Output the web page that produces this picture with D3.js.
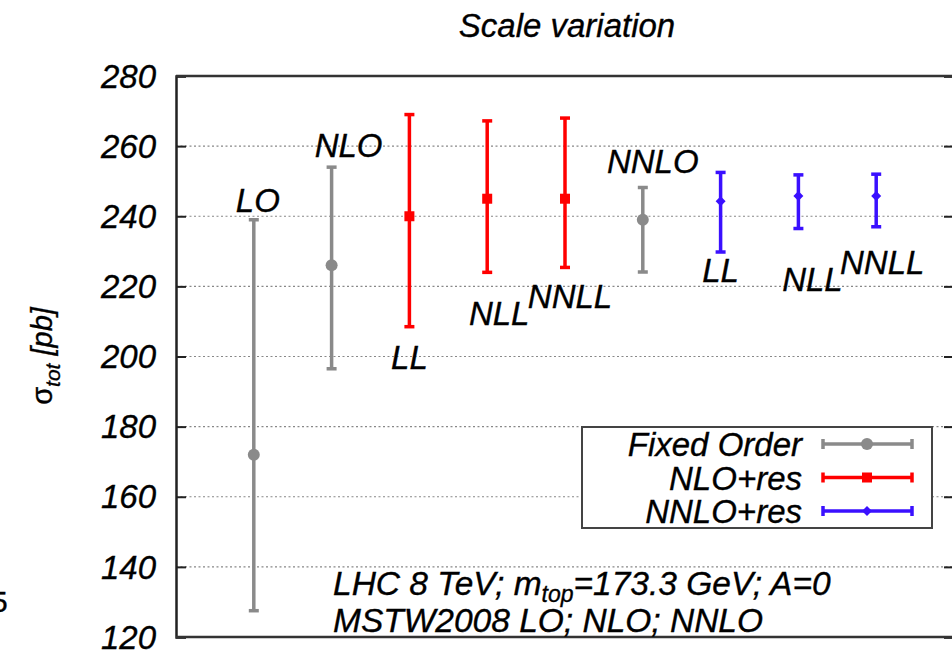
<!DOCTYPE html>
<html><head><meta charset="utf-8">
<script src="https://cdn.jsdelivr.net/npm/d3@7"></script>
<style>
body{margin:0;background:#fff;}
svg{display:block;font-family:"Liberation Sans",Arial,sans-serif;font-style:italic;}
svg text{stroke:#000;stroke-width:0.35px;}
</style></head>
<body><svg id="c" width="952" height="653"></svg>
<script>
// ---- data ----
const categories = ["LO","NLO","LL","NLL","NNLL","NNLO","LL","NLL","NNLL"];
const series = ["Fixed Order","Fixed Order","NLO+res","NLO+res","NLO+res","Fixed Order","NNLO+res","NNLO+res","NNLO+res"];
const centralValues = [172, 226, 240, 245, 245, 239, 244.3, 245.8, 245.8];
const upperValues   = [239, 254, 269, 267.2, 268, 248.2, 252.5, 251.8, 252];
const lowerValues   = [127.5, 196.5, 208.5, 224, 225.4, 224.1, 229.8, 236.5, 237];
const labelSide     = ["top","top","bottom","bottom","bottom","top","bottom","bottom","bottom"];
const yTicks = [120,140,160,180,200,220,240,260,280];
const legendSeries = ["Fixed Order","NLO+res","NNLO+res"];

const color = {"Fixed Order":"#8a8a8a","NLO+res":"#ff0000","NNLO+res":"#3a10ff"};

const svg = d3.select("#c");
const x = d3.scaleLinear().domain([0,10]).range([176,954]);
const y = d3.scaleLinear().domain([120,280]).range([637,76]);

// grid
const g = svg.append("g");
g.selectAll("line.grid").data(yTicks.filter(t=>t>120&&t<280)).join("line")
  .attr("x1",176).attr("x2",954).attr("y1",d=>y(d)).attr("y2",d=>y(d))
  .attr("stroke","#888").attr("stroke-width",1.2).attr("stroke-dasharray","2,2.5");

// left axis
const yAxis = d3.axisLeft(y).tickValues(yTicks).tickSize(-10).tickPadding(20).tickFormat(d3.format("d"));
const ax = svg.append("g").attr("transform","translate(176,0)").call(yAxis);
ax.select(".domain").attr("stroke","#222").attr("stroke-width",2.5);
ax.selectAll(".tick line").attr("stroke","#222").attr("stroke-width",2);
ax.selectAll(".tick text").attr("font-size",33).attr("font-style","italic")
  .attr("font-family","Liberation Sans, Arial, sans-serif").attr("fill","#000").attr("dy","0.34em");
// right ticks
const axR = svg.append("g").attr("transform","translate(954,0)").call(d3.axisRight(y).tickValues(yTicks).tickSize(-10).tickFormat(""));
axR.select(".domain").attr("stroke","#222").attr("stroke-width",2.5);
axR.selectAll(".tick line").attr("stroke","#222").attr("stroke-width",2);
// top and bottom frame
svg.append("line").attr("x1",176).attr("x2",954).attr("y1",y(280)).attr("y2",y(280)).attr("stroke","#333").attr("stroke-width",2.5);
svg.append("line").attr("x1",176).attr("x2",954).attr("y1",y(120)).attr("y2",y(120)).attr("stroke","#333").attr("stroke-width",2.5);

// title
svg.append("text").attr("x",567).attr("y",37).attr("text-anchor","middle").attr("font-size",33).text("Scale variation");

// y label
const yl = svg.append("text").attr("transform","translate(52,356) rotate(-90)").attr("text-anchor","middle").attr("font-size",29);
yl.append("tspan").attr("font-style","normal").text("σ");
yl.append("tspan").attr("font-size",21).attr("dy",8).text("tot");
yl.append("tspan").attr("dy",-8).text(" [pb]");

// stray glyph at left edge
svg.append("text").attr("x",-9).attr("y",612).attr("font-size",30).attr("font-style","normal").text("5");

// markers
function marker(sel, s, cx, cy){
  if(s==="Fixed Order") sel.append("circle").attr("cx",cx).attr("cy",cy).attr("r",6).attr("fill",color[s]);
  else if(s==="NLO+res") sel.append("rect").attr("x",cx-5).attr("y",cy-5).attr("width",10).attr("height",10).attr("fill",color[s]);
  else sel.append("path").attr("d",`M${cx},${cy-5}L${cx+5},${cy}L${cx},${cy+5}L${cx-5},${cy}Z`).attr("fill",color[s]);
}
function errbar(sel, s, cx, yTop, yBot){
  const c=color[s];
  sel.append("line").attr("x1",cx).attr("x2",cx).attr("y1",yTop).attr("y2",yBot).attr("stroke",c).attr("stroke-width",3.5);
  [yTop,yBot].forEach(v=>sel.append("line").attr("x1",cx-5).attr("x2",cx+5).attr("y1",v).attr("y2",v).attr("stroke",c).attr("stroke-width",3.5));
}

const pts = svg.append("g");
categories.forEach((cat,i)=>{
  const cx = x(i+1);
  errbar(pts, series[i], cx, y(upperValues[i]), y(lowerValues[i]));
  marker(pts, series[i], cx, y(centralValues[i]));
});

// category labels
const labelOffsets = [[4,-8],[17,-10],[0,42],[12,53],[5,41],[10,-14],[0,30],[14,62],[6,47]];
categories.forEach((cat,i)=>{
  const cx = x(i+1)+labelOffsets[i][0];
  const yy = labelSide[i]==="top" ? y(upperValues[i])+labelOffsets[i][1] : y(lowerValues[i])+labelOffsets[i][1];
  svg.append("text").attr("x",cx).attr("y",yy).attr("text-anchor","middle").attr("font-size",33).text(cat);
});

// legend
const lg = svg.append("g");
lg.append("rect").attr("x",582).attr("y",427).attr("width",350).attr("height",101).attr("fill","#fff").attr("stroke","#444").attr("stroke-width",2);
legendSeries.forEach((s,i)=>{
  const ly = 444 + i*33.5;
  lg.append("text").attr("x",802).attr("y",ly+12).attr("text-anchor","end").attr("font-size",33).text(s);
  const c=color[s];
  lg.append("line").attr("x1",823).attr("x2",912).attr("y1",ly).attr("y2",ly).attr("stroke",c).attr("stroke-width",3.5);
  [823,912].forEach(v=>lg.append("line").attr("x1",v).attr("x2",v).attr("y1",ly-5).attr("y2",ly+5).attr("stroke",c).attr("stroke-width",3.5));
  marker(lg, s, 867, ly);
});

// annotation
const an = svg.append("text").attr("x",333).attr("y",595).attr("font-size",33.5);
an.append("tspan").text("LHC 8 TeV; m");
an.append("tspan").attr("font-size",23).attr("dy",7).text("top");
an.append("tspan").attr("dy",-7).text("=173.3 GeV; A=0");
svg.append("text").attr("x",333).attr("y",632).attr("font-size",33.5).text("MSTW2008 LO; NLO; NNLO");
</script></body></html>
